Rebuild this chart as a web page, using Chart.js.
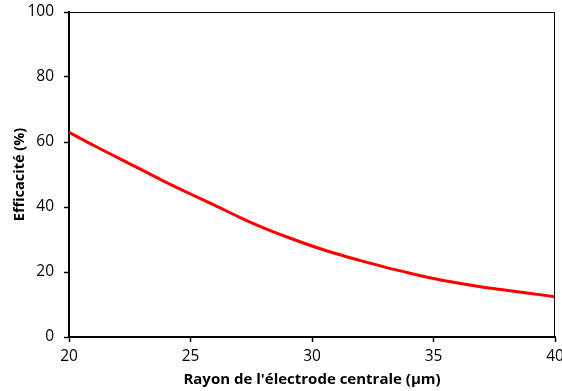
<!DOCTYPE html>
<html>
<head>
<meta charset="utf-8">
<script src="https://cdn.jsdelivr.net/npm/chart.js@4/dist/chart.umd.min.js"></script>
<style>
  html, body { margin: 0; padding: 0; background: #fff; }
  #wrap { width: 562px; height: 391px; }
</style>
</head>
<body>
<div id="wrap"><canvas id="myChart" width="562" height="391"></canvas></div>
<script>
// Rayon (µm) and efficacité (%)
const rayon = [20, 21, 22, 23, 24, 25, 26, 27, 28, 29, 30, 31, 32, 33, 34, 35, 36, 37, 38, 39, 40];
const efficacite = [63.0, 59.0, 55.2, 51.4, 47.6, 44.0, 40.5, 36.9, 33.6, 30.7, 28.0, 25.6, 23.5, 21.5, 19.7, 18.0, 16.6, 15.4, 14.4, 13.4, 12.4];
const xTicks = [20, 25, 30, 35, 40];
const yTicks = [0, 20, 40, 60, 80, 100];

const font = 'Open Sans';

// thin frame on top and right of the plot area
const frame = {
    id: 'frame',
    afterDraw(chart) {
        const a = chart.chartArea;
        const ctx = chart.ctx;
        ctx.save();
        ctx.strokeStyle = '#000';
        ctx.lineWidth = 1;
        ctx.beginPath();
        ctx.moveTo(a.left, a.top + 0.5);
        ctx.lineTo(a.right - 0.5, a.top + 0.5);
        ctx.lineTo(a.right - 0.5, a.bottom);
        ctx.stroke();
        ctx.restore();
    }
};

const ctx = document.getElementById('myChart').getContext('2d');
new Chart(ctx, {
    type: 'line',
    data: {
        datasets: [{
            data: rayon.map((r, i) => ({ x: r, y: efficacite[i] })),
            borderColor: '#ff0000',
            borderWidth: 3,
            pointRadius: 0,
            cubicInterpolationMode: 'monotone',
            fill: false
        }]
    },
    options: {
        responsive: false,
        animation: false,
        layout: { padding: { top: 12, right: 7, left: 0, bottom: 0 } },
        plugins: {
            legend: { display: false },
            tooltip: { enabled: false }
        },
        scales: {
            x: {
                type: 'linear',
                min: 20,
                max: 40,
                afterBuildTicks: s => { s.ticks = xTicks.map(v => ({ value: v })); },
                afterFit: s => { s.height = 54; s.paddingLeft = 0; s.paddingRight = 0; },
                border: { color: '#000', width: 2 },
                grid: { drawOnChartArea: false, tickLength: 5, color: '#000', tickWidth: 1.5 },
                ticks: { color: '#000', font: { family: font, size: 15.5 }, padding: 5, maxRotation: 0 },
                title: {
                    display: true,
                    text: "Rayon de l'électrode centrale (µm)",
                    color: '#000',
                    font: { family: font, size: 15, weight: 'bold' },
                    padding: { top: 0, bottom: 2 }
                }
            },
            y: {
                min: 0,
                max: 100,
                afterBuildTicks: s => { s.ticks = yTicks.map(v => ({ value: v })); },
                afterFit: s => { s.width = 69; s.paddingTop = 0; s.paddingBottom = 0; },
                border: { color: '#000', width: 2 },
                grid: { drawOnChartArea: false, tickLength: 5, color: '#000', tickWidth: 1.5 },
                ticks: { color: '#000', font: { family: font, size: 15.5 }, padding: 10 },
                title: {
                    display: true,
                    text: 'Efficacité (%)',
                    color: '#000',
                    font: { family: font, size: 14.5, weight: 'bold' },
                    padding: { top: 11, bottom: 0 }
                }
            }
        }
    },
    plugins: [frame]
});
</script>
</body>
</html>
